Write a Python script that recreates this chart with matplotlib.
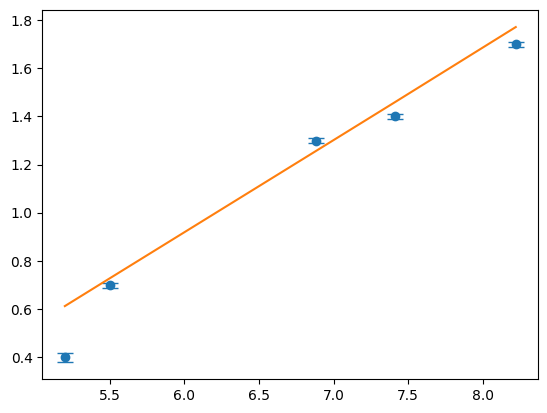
import matplotlib
matplotlib.use('Agg')
import matplotlib.pyplot as plt

x = [5.2, 5.5, 6.88, 7.41, 8.22]
y = [0.4, 0.7, 1.3, 1.4, 1.7]
yerr = [0.02, 0.01, 0.01, 0.01, 0.01]
fit = [0.613, 0.728, 1.256, 1.459, 1.771]

fig = plt.figure(figsize=(5.47, 4.13), dpi=100)
ax = fig.add_axes([42.3 / 547, 1 - 379 / 413, (538.3 - 42.3) / 547, (379 - 10.3) / 413])
ax.errorbar(x, y, yerr=yerr, fmt='o', capsize=6)
ax.plot(x, fit)

fig.savefig('out.png', dpi=100)
